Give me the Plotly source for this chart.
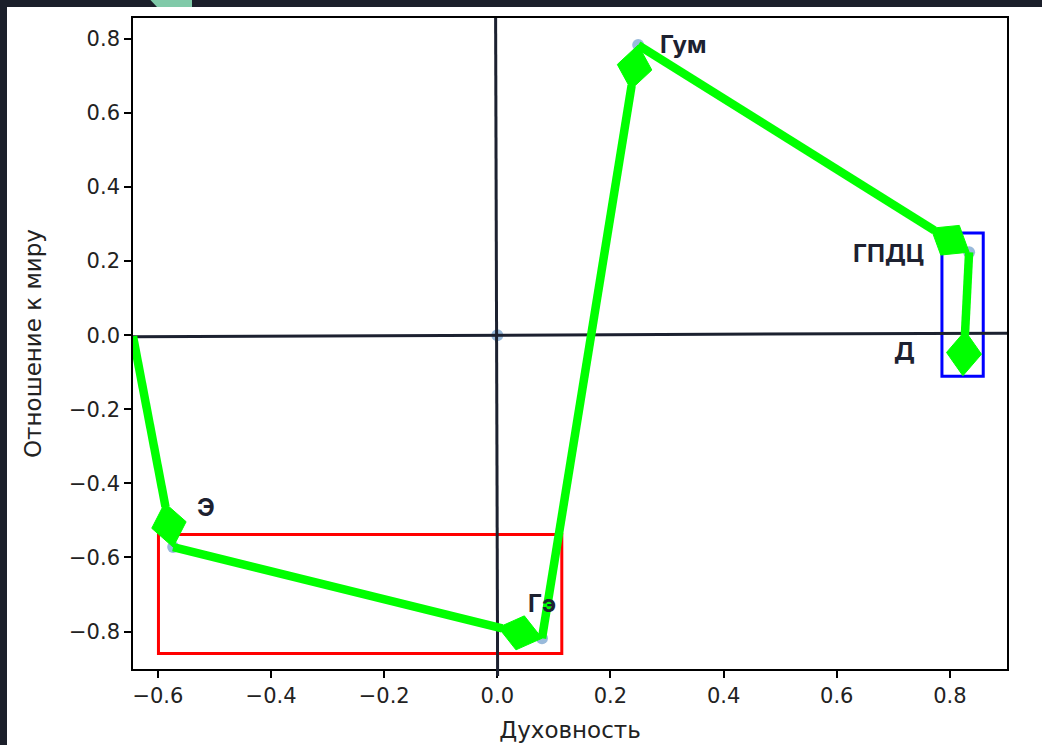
import plotly.graph_objects as go
import numpy as np

# ---------------- data ----------------
labels = ["", "Э", "Гэ", "Гум", "ГПДЦ", "Д"]
spirit = [0.0, -0.573, 0.079, 0.249, 0.834, 0.825]      # Духовность
world = [0.0, -0.572, -0.818, 0.783, 0.224, -0.049]     # Отношение к миру

path_start = (-0.644, -0.003)          # start of the green trajectory
path_targets = [1, 2, 3, 4, 5]         # indices of points visited in order
head_centered = [False, False, False, False, True]

red_box_x = [-0.599, 0.114]
red_box_y = [-0.859, -0.538]
blue_box_x = [0.786, 0.859]
blue_box_y = [-0.111, 0.276]

x_ticks = [-0.6, -0.4, -0.2, 0.0, 0.2, 0.4, 0.6, 0.8]
y_ticks = [-0.8, -0.6, -0.4, -0.2, 0.0, 0.2, 0.4, 0.6, 0.8]
x_range = [-0.644, 0.901]
y_range = [-0.901, 0.856]

# ---------------- layout geometry ----------------
W, H = 1042, 745
ML, MR, MT, MB = 133, 35, 18, 76
PW, PH = W - ML - MR, H - MT - MB
sx = PW / (x_range[1] - x_range[0])
sy = PH / (y_range[1] - y_range[0])

DARK = "#1b1f2a"
GREEN = "#00ff00"
AXC = "#1c2130"

fig = go.Figure()

# scatter points
fig.add_trace(go.Scatter(
    x=spirit, y=world, mode="markers",
    marker=dict(size=12, color="rgba(70,130,190,0.55)", line=dict(width=0)),
    hoverinfo="skip", showlegend=False))

# zero lines (drawn above the points)
fig.add_trace(go.Scatter(x=[x_range[0], x_range[1]], y=[-0.004, 0.0055], mode="lines",
                         line=dict(color=AXC, width=3), hoverinfo="skip", showlegend=False))
fig.add_trace(go.Scatter(x=[-0.003, 0.0005], y=[y_range[1], y_range[0]], mode="lines",
                         line=dict(color=AXC, width=3), hoverinfo="skip", showlegend=False))

# green trajectory with diamond heads
L, Wd = 45.0, 35.0
seg_x, seg_y, dia_x, dia_y = [], [], [], []
src = path_start
for k, ti in enumerate(path_targets):
    tgt = (spirit[ti], world[ti])
    dx = (tgt[0] - src[0]) * sx
    dy = (tgt[1] - src[1]) * sy
    n = np.hypot(dx, dy)
    ux, uy = dx / n, dy / n
    tipx, tipy = tgt[0] * sx, tgt[1] * sy
    if head_centered[k]:
        tipx += ux * L / 2
        tipy += uy * L / 2
    bx, by = tipx - ux * L, tipy - uy * L
    cx, cy = tipx - ux * L / 2, tipy - uy * L / 2
    px, py = -uy, ux
    poly = [(tipx, tipy), (cx + px * Wd / 2, cy + py * Wd / 2), (bx, by),
            (cx - px * Wd / 2, cy - py * Wd / 2), (tipx, tipy)]
    for (a, b) in poly:
        dia_x.append(a / sx)
        dia_y.append(b / sy)
    dia_x.append(None)
    dia_y.append(None)
    seg_x += [src[0], (bx + ux * 4) / sx, None]
    seg_y += [src[1], (by + uy * 4) / sy, None]
    src = tgt

fig.add_trace(go.Scatter(x=seg_x, y=seg_y, mode="lines",
                         line=dict(color=GREEN, width=8.5), hoverinfo="skip", showlegend=False))
fig.add_trace(go.Scatter(x=dia_x, y=dia_y, mode="lines", fill="toself", fillcolor=GREEN,
                         line=dict(color=GREEN, width=1), hoverinfo="skip", showlegend=False))

# labels
label_style = {
    "Э": ("left", 22, 40),
    "Гэ": ("left", -16, 35),
    "Гум": ("left", 20, 1),
    "ГПДЦ": ("right", -43, -1),
    "Д": ("right", -47, 2),
}
for i, t in enumerate(labels):
    if not t:
        continue
    xa, xs, ys = label_style[t]
    fig.add_annotation(x=spirit[i], y=world[i], text=t, showarrow=False,
                       xanchor=xa, yanchor="middle", xshift=xs, yshift=ys,
                       font=dict(family="Inter", size=24, color="#1d2130", weight="bold"))

shapes = [
    # white panel over dark page
    dict(type="rect", xref="paper", yref="paper",
         x0=(7 - ML) / PW, x1=(W + 5 - ML) / PW,
         y0=(H - MB - (H + 5)) / PH, y1=(H - MB - 7) / PH,
         fillcolor="white", line=dict(width=0), layer="below"),
    # mint fragment at top
    dict(type="path", xref="paper", yref="paper",
         path="M {a},{b} L {c},{b} L {c},{d} L {e},{d} Z".format(
             a=(150 - ML) / PW, b=(H - MB + 0.5) / PH, c=(192 - ML) / PW,
             d=(H - MB - 7) / PH, e=(157 - ML) / PW),
         fillcolor="#80c9a8", line=dict(width=0), layer="below"),
    # red and blue frames
    dict(type="rect", xref="x", yref="y", x0=red_box_x[0], x1=red_box_x[1],
         y0=red_box_y[0], y1=red_box_y[1], line=dict(color="#ff0000", width=3),
         fillcolor="rgba(0,0,0,0)", layer="below"),
    dict(type="rect", xref="x", yref="y", x0=blue_box_x[0], x1=blue_box_x[1],
         y0=blue_box_y[0], y1=blue_box_y[1], line=dict(color="#0000ff", width=3),
         fillcolor="rgba(0,0,0,0)", layer="below"),
    # stub of the vertical zero line below the axis
    dict(type="line", xref="x", yref="paper", x0=0.0005, x1=0.0005,
         y0=0.0, y1=-7 / PH, line=dict(color=AXC, width=3), layer="above"),
]

tickfont = dict(family="DejaVu Sans", size=21, color="#222222")
titlefont = dict(family="DejaVu Sans", size=23, color="#222222")

fig.update_layout(
    width=W, height=H,
    margin=dict(l=ML, r=MR, t=MT, b=MB, pad=0),
    paper_bgcolor=DARK, plot_bgcolor="white",
    showlegend=False, shapes=shapes,
    xaxis=dict(range=x_range, tickvals=x_ticks, tickformat=".1f", showgrid=False,
               zeroline=False, showline=True, linecolor="black", linewidth=1.6,
               mirror=True, ticks="outside", ticklen=7, tickwidth=1.5, tickcolor="black",
               tickfont=tickfont, automargin=False,
               title=dict(text="Духовность", font=titlefont, standoff=15)),
    yaxis=dict(range=y_range, tickvals=y_ticks, tickformat=".1f", showgrid=False,
               zeroline=False, showline=True, linecolor="black", linewidth=1.6,
               mirror=True, ticks="outside", ticklen=7, tickwidth=1.5, tickcolor="black",
               tickfont=tickfont, automargin=False,
               title=dict(text="Отношение к миру", font=titlefont, standoff=21)),
)

fig.write_html(
    "out.html",
    config={"displayModeBar": False},
    post_script="document.body.style.margin='0px';document.body.style.overflow='hidden';",
)
